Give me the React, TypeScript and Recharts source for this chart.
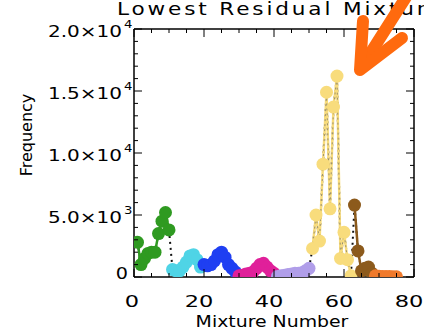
import React from 'react';
import { ComposedChart, Line, XAxis, YAxis, ReferenceLine } from 'recharts';

// mixture number ranges + frequencies per colour group
const greenMix = [1, 2, 3, 4, 5, 6, 7, 8, 9, 10];
const greenFreq = [2800, 1000, 1500, 1900, 2000, 2000, 3500, 4500, 5200, 3800];
const cyanMix = [11, 12, 13, 14, 15, 16, 17, 18, 19];
const cyanFreq = [600, 500, 500, 800, 1200, 1700, 1800, 1400, 800];
const blueMix = [20, 21, 22, 23, 24, 25, 26, 27, 28, 29];
const blueFreq = [1000, 900, 1000, 1300, 1800, 2000, 1600, 1000, 700, 400];
const magentaMix = [30, 31, 32, 33, 34, 35, 36, 37, 38, 39, 40];
const magentaFreq = [100, 150, 250, 300, 400, 700, 1000, 1100, 800, 500, 300];
const lavenderMix = [41, 42, 43, 44, 45, 46, 47, 48, 49, 50];
const lavenderFreq = [50, 100, 150, 200, 250, 300, 300, 350, 500, 700];
const yellowMix = [51, 52, 53, 54, 55, 56, 57, 58, 59, 60, 61, 62];
const yellowFreq = [2300, 5000, 2900, 9100, 14900, 5500, 13700, 16200, 1500, 3600, 1400, 100];
const brownMix = [63, 64, 65, 66, 67, 68];
const brownFreq = [5800, 2100, 500, 700, 800, 300];
const orangeMix = [69, 70, 71, 72, 73, 74, 75];
const orangeFreq = [100, 60, 50, 50, 40, 30, 20];

const xTicks = [0, 5, 10, 15, 20, 25, 30, 35, 40, 45, 50, 55, 60, 65, 70, 75, 80];
const yTicks = [
  0, 1000, 2000, 3000, 4000, 5000, 6000, 7000, 8000, 9000, 10000,
  11000, 12000, 13000, 14000, 15000, 16000, 17000, 18000, 19000, 20000,
];
const yLabels: Record<number, [string, string]> = {
  0: ['0', ''],
  5000: ['5.0×10', '3'],
  10000: ['1.0×10', '4'],
  15000: ['1.5×10', '4'],
  20000: ['2.0×10', '4'],
};

const groups = [
  { key: 'green', mix: greenMix, freq: greenFreq, color: '#2f9a21' },
  { key: 'cyan', mix: cyanMix, freq: cyanFreq, color: '#4fd4e6' },
  { key: 'blue', mix: blueMix, freq: blueFreq, color: '#1f3ff2' },
  { key: 'magenta', mix: magentaMix, freq: magentaFreq, color: '#e0209a' },
  { key: 'lavender', mix: lavenderMix, freq: lavenderFreq, color: '#b09ee9' },
  { key: 'yellow', mix: yellowMix, freq: yellowFreq, color: '#f8dc7c' },
  { key: 'brown', mix: brownMix, freq: brownFreq, color: '#8c5a1c' },
  { key: 'orange', mix: orangeMix, freq: orangeFreq, color: '#f07a2c' },
];

const rows: any[] = [];
groups.forEach((g) => {
  g.mix.forEach((m, i) => {
    rows.push({ x: m, all: g.freq[i], [g.key]: g.freq[i] });
  });
});

const TOP = 29;
const BOTTOM = 277;
const LEFT = 134;
const RIGHT = 414;
const font = 'DejaVu Sans, sans-serif';

// the source figure has wide (stretched) lettering
const Wide = ({ x, y, sx, size, anchor, length, children }: any) => (
  <text
    transform={`translate(${x},${y}) scale(${sx},1)`}
    x={0}
    y={0}
    textAnchor={anchor}
    dominantBaseline="central"
    fontSize={size}
    fontFamily={font}
    fill="#000"
    textLength={length}
    lengthAdjust={length ? 'spacing' : undefined}
  >
    {children}
  </text>
);

const XTick = (props: any) => {
  const { x, payload } = props;
  const v = payload.value;
  const major = v % 20 === 0;
  const len = major ? 8 : 4;
  return (
    <g>
      <line x1={x} x2={x} y1={BOTTOM} y2={BOTTOM - len} stroke="#000" />
      <line x1={x} x2={x} y1={TOP} y2={TOP + len} stroke="#000" />
      {major && (
        <Wide x={v === 0 ? x - 2 : x - 5} y={302} sx={1.5} size={15} anchor="middle">
          {v}
        </Wide>
      )}
    </g>
  );
};

const YTick = (props: any) => {
  const { y, payload } = props;
  const v = payload.value;
  const major = v % 5000 === 0;
  const len = major ? 8 : 4;
  const lab = yLabels[v];
  return (
    <g>
      <line x1={LEFT} x2={LEFT + len} y1={y} y2={y} stroke="#000" />
      <line x1={RIGHT} x2={RIGHT - len} y1={y} y2={y} stroke="#000" />
      {lab && !lab[1] && (
        <Wide x={128} y={y - 3} sx={1.2} size={16} anchor="end">
          {lab[0]}
        </Wide>
      )}
      {lab && lab[1] && (
        <g>
          <Wide x={122} y={y + 2} sx={1.25} size={16} anchor="end">
            {lab[0]}
          </Wide>
          <Wide x={124} y={y - 5} sx={1.2} size={11} anchor="start">
            {lab[1]}
          </Wide>
        </g>
      )}
    </g>
  );
};

const App = () => {
  return (
    <div style={{ position: 'absolute', left: 0, top: 0, width: 424, height: 334, background: '#fff' }}>
      <ComposedChart width={424} height={334} data={rows} margin={{ top: TOP, right: 424 - RIGHT, bottom: 0, left: 0 }}>
        <XAxis
          type="number"
          dataKey="x"
          domain={[0, 80]}
          ticks={xTicks}
          interval={0}
          height={334 - BOTTOM}
          tick={<XTick />}
          tickLine={false}
          tickSize={0}
          axisLine={{ stroke: '#000', strokeWidth: 1.5 }}
          allowDataOverflow
        />
        <YAxis
          type="number"
          domain={[0, 20000]}
          ticks={yTicks}
          interval={0}
          width={LEFT}
          tick={<YTick />}
          tickLine={false}
          tickSize={0}
          axisLine={{ stroke: '#000', strokeWidth: 1.5 }}
          allowDataOverflow
        />
        <ReferenceLine y={20000} stroke="#000" strokeWidth={1.5} />
        <ReferenceLine x={80} stroke="#000" strokeWidth={1.5} />
        <Line dataKey="all" stroke="#111" strokeWidth={2} strokeDasharray="2 4" dot={false} isAnimationActive={false} />
        {groups.map((g) => (
          <Line
            key={g.key}
            dataKey={g.key}
            stroke={g.color}
            strokeWidth={2.5}
            dot={{ r: 6.5, fill: g.color, stroke: 'none' }}
            activeDot={false}
            isAnimationActive={false}
          />
        ))}
        <Line dataKey="yellow" stroke="#9a9070" strokeWidth={1} strokeDasharray="2 3" dot={false} activeDot={false} isAnimationActive={false} />
      </ComposedChart>
      <svg width={424} height={334} style={{ position: 'absolute', left: 0, top: 0, pointerEvents: 'none' }}>
        <Wide x={117} y={9} sx={1.2} size={18} anchor="start" length={282}>
          Lowest Residual Mixtures
        </Wide>
        <Wide x={272} y={322} sx={1.18} size={16} anchor="middle">
          Mixture Number
        </Wide>
        <text
          x={26}
          y={135}
          transform="rotate(-90 26 135)"
          textAnchor="middle"
          dominantBaseline="central"
          fontSize={16}
          fontFamily={font}
          fill="#000"
        >
          Frequency
        </text>
        <g stroke="#ff6a0e" strokeWidth={12} strokeLinecap="round" strokeLinejoin="round" fill="none">
          <line x1={408} y1={-6} x2={361} y2={68} />
          <polyline points="363,21 360,70 402,38" />
        </g>
      </svg>
    </div>
  );
};

export default App;
